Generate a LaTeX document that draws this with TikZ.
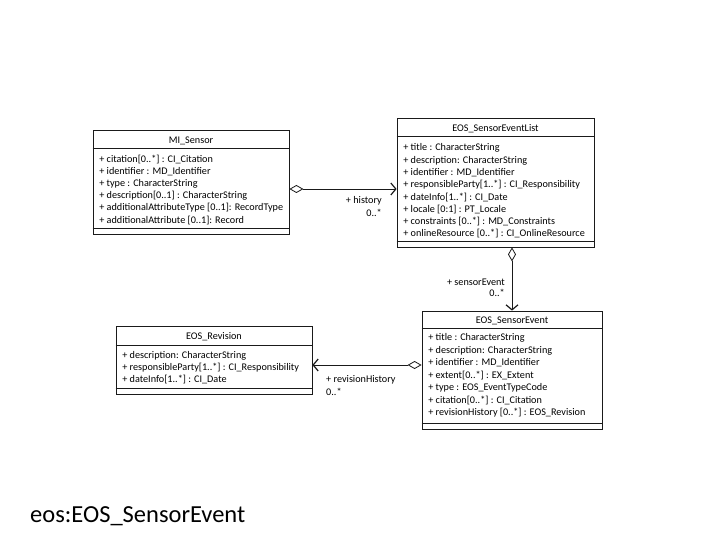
\documentclass[tikz,border=0pt]{standalone}
\usepackage{fontspec}
\setmainfont{Carlito}
\usetikzlibrary{arrows.meta,calc}
\definecolor{umlink}{HTML}{1A1A1A}

\tikzset{
  classbox/.style={draw=umlink, line width=0.8pt, fill=white, inner sep=0pt},
  classname/.style={font=\fontsize{10.2}{12}\selectfont, inner sep=0pt},
  attrlist/.style={font=\fontsize{10.2}{12.2}\selectfont, align=left, anchor=north west, inner sep=0pt},
  divider/.style={draw=umlink, line width=0.8pt},
  assoc/.style={draw=umlink, line width=0.8pt, {Diamond[open,length=14pt,width=8pt]}-{Straight Barb[length=5pt,width=12pt,line width=1.2pt]}},
  rolelabel/.style={font=\fontsize{10.2}{12}\selectfont, inner sep=0pt}
}

\begin{document}
\begin{tikzpicture}[x=1pt, y=-1pt]
  \useasboundingbox (0,0) rectangle (720,540);

  % MI_Sensor
  \node[classbox, minimum width=196pt, minimum height=104pt] (sensor) at (191,182) {};
  \node[classname] (sensorname) at ($(sensor.north)+(0,11)$) {MI\_Sensor};
  \draw[divider] ($(sensor.north west)+(0,19)$) -- ($(sensor.north east)+(0,19)$);
  \draw[divider] ($(sensor.south west)+(0,-6)$) -- ($(sensor.south east)+(0,-6)$);
  \node[attrlist] (sensorattr) at ($(sensor.north west)+(6.5,25)$)
    {+ citation[0..*] : CI\_Citation\\
     + identifier : MD\_Identifier\\
     + type : CharacterString\\
     + description[0..1] : CharacterString\\
     + additionalAttributeType [0..1]: RecordType\\
     + additionalAttribute [0..1]: Record};

  % EOS_SensorEventList
  \node[classbox, minimum width=197pt, minimum height=129pt] (evlist) at (495.5,182.5) {};
  \node[classname] (evlistname) at ($(evlist.north)+(0,11)$) {EOS\_SensorEventList};
  \draw[divider] ($(evlist.north west)+(0,19)$) -- ($(evlist.north east)+(0,19)$);
  \draw[divider] ($(evlist.south west)+(0,-6)$) -- ($(evlist.south east)+(0,-6)$);
  \node[attrlist, font=\fontsize{10.2}{12.3}\selectfont] (evlistattr) at ($(evlist.north west)+(6.5,26)$)
    {+ title : CharacterString\\
     + description: CharacterString\\
     + identifier : MD\_Identifier\\
     + responsibleParty[1..*] : CI\_Responsibility\\
     + dateInfo[1..*] : CI\_Date\\
     + locale [0:1] : PT\_Locale\\
     + constraints [0..*] : MD\_Constraints\\
     + onlineResource [0..*] : CI\_OnlineResource};

  % EOS_SensorEvent
  \node[classbox, minimum width=180pt, minimum height=118pt] (event) at (512,370) {};
  \node[classname] (eventname) at ($(event.north)+(0,10)$) {EOS\_SensorEvent};
  \draw[divider] ($(event.north west)+(0,18)$) -- ($(event.north east)+(0,18)$);
  \draw[divider] ($(event.south west)+(0,-6)$) -- ($(event.south east)+(0,-6)$);
  \node[attrlist, font=\fontsize{10.2}{12.5}\selectfont] (eventattr) at ($(event.north west)+(6.5,23)$)
    {+ title : CharacterString\\
     + description: CharacterString\\
     + identifier : MD\_Identifier\\
     + extent[0..*] : EX\_Extent\\
     + type : EOS\_EventTypeCode\\
     + citation[0..*] : CI\_Citation\\
     + revisionHistory [0..*] : EOS\_Revision};

  % EOS_Revision
  \node[classbox, minimum width=196pt, minimum height=68pt] (revision) at (214,360) {};
  \node[classname] (revisionname) at ($(revision.north)+(0,11)$) {EOS\_Revision};
  \draw[divider] ($(revision.north west)+(0,20)$) -- ($(revision.north east)+(0,20)$);
  \draw[divider] ($(revision.south west)+(0,-6)$) -- ($(revision.south east)+(0,-6)$);
  \node[attrlist] (revisionattr) at ($(revision.north west)+(6.5,25.5)$)
    {+ description: CharacterString\\
     + responsibleParty[1..*] : CI\_Responsibility\\
     + dateInfo[1..*] : CI\_Date};

  % associations
  \draw[assoc] ([yshift=-7pt]sensor.east) -- ([yshift=-7pt]sensor.east -| evlist.west);
  \node[rolelabel, anchor=east] (historyrole) at (382,201) {+ history};
  \node[rolelabel, anchor=east] (historymult) at (382,213) {0..*};

  \draw[assoc] (event.north |- evlist.south) -- (event.north);
  \node[rolelabel, anchor=east] (sensoreventrole) at (505,282) {+ sensorEvent};
  \node[rolelabel, anchor=east] (sensoreventmult) at (505,293) {0..*};

  \draw[assoc] ([yshift=5pt]event.west) -- ([yshift=5pt]event.west -| revision.east);
  \node[rolelabel, anchor=west] (revisionrole) at (326,380) {+ revisionHistory};
  \node[rolelabel, anchor=west] (revisionmult) at (326,392) {0..*};

  \node[font=\fontsize{24.5}{28}\selectfont, anchor=west, inner sep=0pt] (caption) at (30,516) {eos:EOS\_SensorEvent};
\end{tikzpicture}
\end{document}
